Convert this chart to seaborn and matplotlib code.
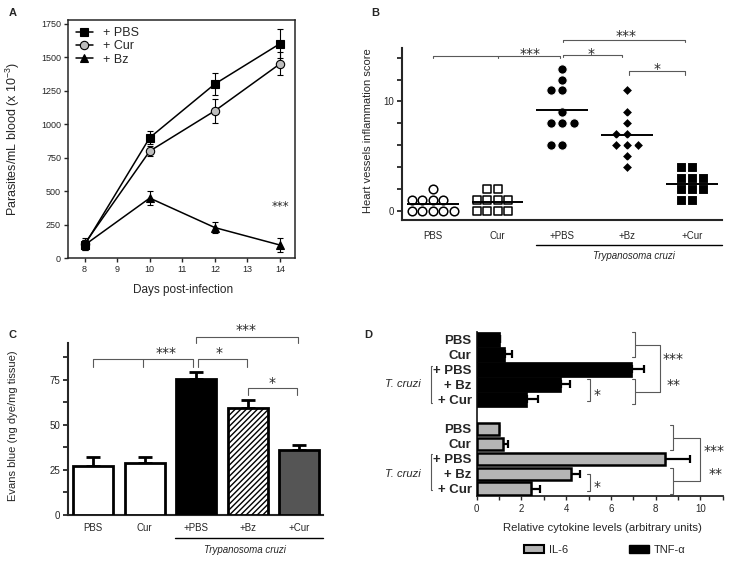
import numpy as np
import matplotlib
matplotlib.use('Agg')
import matplotlib.pyplot as plt
import seaborn as sns
from matplotlib.patches import Patch
from matplotlib.ticker import MultipleLocator

# Panel A - parasitemia
days = [8, 10, 12, 14]
pbs_par = [100, 900, 1300, 1600]
pbs_par_err = [40, 50, 85, 110]
cur_par = [110, 800, 1100, 1450]
cur_par_err = [40, 40, 90, 85]
bz_par = [100, 450, 230, 100]
bz_par_err = [40, 55, 40, 50]

# Panel B - heart vessels inflammation score (one value per animal)
b_groups = ['PBS', 'Cur', '+PBS', '+Bz', '+Cur']
b_pbs = [0, 0, 0, 0, 0, 1, 1, 1, 1, 2]
b_cur = [0, 0, 0, 0, 1, 1, 1, 1, 2, 2]
b_tpbs = [13, 12, 11, 11, 9, 8, 8, 8, 6, 6]
b_tbz = [11, 9, 8, 7, 7, 6, 6, 6, 5, 4]
b_tcur = [4, 4, 3, 3, 3, 2, 2, 2, 1, 1]

# Panel C - Evans blue
c_groups = ['PBS', 'Cur', '+PBS', '+Bz', '+Cur']
c_vals = [27, 29, 75.5, 59.5, 36]
c_err = [5, 3, 3.8, 4.5, 2.7]

# Panel D - cytokines
d_groups = ['PBS', 'Cur', '+ PBS', '+ Bz', '+ Cur']
tnf_vals = [1.05, 1.27, 6.95, 3.75, 2.27]
tnf_err = [0, 0.3, 0.55, 0.42, 0.48]
il6_vals = [1.0, 1.18, 8.4, 4.2, 2.42]
il6_err = [0, 0.2, 1.15, 0.44, 0.4]

sns.set_theme(style='ticks')
plt.rcParams['font.family'] = ['Liberation Sans', 'DejaVu Sans']
plt.rcParams['mathtext.default'] = 'regular'
plt.rcParams['hatch.linewidth'] = 1.0

fig = plt.figure(figsize=(7.36, 5.64), dpi=100)


def bracket(ax, x1, x2, y, h, color='0.35', lw=0.8):
    ax.plot([x1, x1, x2, x2], [y - h, y, y, y - h], color=color, lw=lw, clip_on=False)


def rbracket(ax, x, y1, y2, arm, color='0.35', lw=0.8):
    ax.plot([x - arm, x, x, x - arm], [y1, y1, y2, y2], color=color, lw=lw, clip_on=False)


def star(ax, x, y, s, size=10):
    ax.annotate(s, xy=(x, y), xytext=(0, -0.55 * size), textcoords='offset points',
                ha='center', va='baseline', fontsize=size, family='DejaVu Sans',
                annotation_clip=False)


# ---------------- A ----------------
axA = fig.add_axes([0.0924, 0.5417, 0.3084, 0.4237])
series = [('+ Bz', bz_par, bz_par_err, '^', 'black', 6),
          ('+ Cur', cur_par, cur_par_err, 'o', '#bdbdbd', 6),
          ('+ PBS', pbs_par, pbs_par_err, 's', 'black', 6.3)]
for name, vals, err, m, fc, ms in series:
    axA.errorbar(days, vals, yerr=err, fmt='none', ecolor='black', elinewidth=0.8,
                 capsize=2.5, capthick=0.8, zorder=2)
    sns.lineplot(x=days, y=vals, ax=axA, color='black', lw=1.1, marker=m, markersize=ms,
                 markerfacecolor=fc, markeredgecolor='black', markeredgewidth=0.8,
                 label=name, zorder=3)
h, l = axA.get_legend_handles_labels()
order = [l.index('+ PBS'), l.index('+ Cur'), l.index('+ Bz')]
axA.legend([h[i] for i in order], [l[i] for i in order], loc='upper left', frameon=False,
           fontsize=9, handlelength=1.4, labelspacing=0.1, borderaxespad=0.2,
           handletextpad=0.8)
axA.set_xlim(7.49, 14.46)
axA.set_ylim(0, 1780)
axA.set_xticks(range(8, 15))
axA.set_yticks(range(0, 1751, 250))
axA.tick_params(labelsize=6.5, length=3, width=1, direction='out', pad=2)
for sp in axA.spines.values():
    sp.set_linewidth(1.1)
axA.set_ylabel('Parasites/mL blood (x 10$^{-3}$)', fontsize=9, va='center')
axA.yaxis.set_label_coords(-0.244, 0.5)
axA.set_xlabel('Days post-infection', fontsize=8.5, va='center')
axA.xaxis.set_label_coords(0.506, -0.133)
axA.text(14, 390, '***', ha='center', va='center', fontsize=8.5, family='DejaVu Sans')

# ---------------- B ----------------
axB = fig.add_axes([0.5458, 0.6099, 0.4348, 0.3055])
# name, values, marker, face, edge, size, edge width
b_series = [('PBS', b_pbs, 'o', 'white', 'black', 6.2, 1.1),
            ('Cur', b_cur, 's', 'white', 'black', 6.0, 1.1),
            ('+PBS', b_tpbs, 'o', 'black', 'white', 6.85, 0.85),
            ('+Bz', b_tbz, 'D', 'black', 'white', 6.1, 1.6),
            ('+Cur', b_tcur, 's', 'black', 'white', 7.0, 0.8)]
for name, vals, m, fc, ec, size, lw in b_series:
    sns.swarmplot(x=[name] * len(vals), y=vals, order=b_groups, ax=axB, marker=m,
                  color=fc, edgecolor=ec, linewidth=lw, size=size, zorder=3)
for i, (name, vals, *_r) in enumerate(b_series):
    axB.hlines(np.mean(vals), i - 0.4, i + 0.4, color='black', lw=1.4, zorder=4)
axB.set_xlim(-0.48, 4.46)
axB.set_ylim(-0.82, 14.9)
axB.set_yticks([0, 10])
axB.yaxis.set_minor_locator(MultipleLocator(2))
axB.tick_params(axis='y', which='both', labelsize=7, length=3.5, width=1.3, pad=2)
axB.tick_params(axis='x', length=0, labelsize=7, pad=8)
sns.despine(ax=axB)
axB.spines['left'].set_linewidth(1.5)
axB.spines['bottom'].set_linewidth(1.5)
axB.set_xlabel('')
axB.set_ylabel('Heart vessels inflammation score', fontsize=8, va='center')
axB.yaxis.set_label_coords(-0.105, 0.52)
bracket(axB, 0, 1.96, 14.1, 0.15)
axB.plot([1.01, 1.01], [14.1, 13.95], color='0.35', lw=0.8, clip_on=False)
star(axB, 1.5, 14.7, '***')
bracket(axB, 2.01, 2.92, 14.2, 0.15)
star(axB, 2.45, 14.7, '*')
bracket(axB, 2.01, 3.9, 15.6, 0.2)
star(axB, 2.99, 16.3, '***')
bracket(axB, 3.03, 3.9, 12.75, 0.35)
star(axB, 3.46, 13.3, '*')
axB.plot([1.6, 4.46], [-3.1, -3.1], color='black', lw=1, clip_on=False)
axB.text(3.1, -4.1, 'Trypanosoma cruzi', ha='center', va='center', fontsize=7,
         style='italic')

# ---------------- C ----------------
axC = fig.add_axes([0.0924, 0.0869, 0.3465, 0.3050])
c_colors = ['white', 'white', 'black', 'white', '#555555']
sns.barplot(x=c_groups, y=c_vals, hue=c_groups, order=c_groups, palette=c_colors,
            legend=False, saturation=1, edgecolor='black', linewidth=2, width=0.77,
            ax=axC, zorder=3)
axC.containers[3][0].set_hatch('//////')
axC.errorbar(range(len(c_vals)), c_vals, yerr=[np.zeros(len(c_err)), c_err], fmt='none',
             ecolor='black', elinewidth=2, capsize=5, capthick=2, zorder=2)
axC.set_xlim(-0.49, 4.46)
axC.set_ylim(0, 95.5)
axC.set_yticks([0, 25, 50, 75])
axC.yaxis.set_minor_locator(MultipleLocator(12.5))
axC.tick_params(axis='y', which='both', labelsize=7, length=3.5, width=1.3, pad=2)
axC.tick_params(axis='x', length=0, labelsize=7, pad=6)
sns.despine(ax=axC)
axC.spines['left'].set_linewidth(1.5)
axC.spines['bottom'].set_linewidth(1.5)
axC.set_ylabel('Evans blue (ng dye/mg tissue)', fontsize=8, va='center')
axC.yaxis.set_label_coords(-0.216, 0.517)
bracket(axC, 0, 1.94, 86.5, 4.5)
axC.plot([0.97, 0.97], [86.5, 82], color='0.35', lw=0.8, clip_on=False)
star(axC, 1.42, 91.7, '***')
bracket(axC, 2.03, 2.98, 86.5, 4.5)
star(axC, 2.45, 91.7, '*')
bracket(axC, 2.0, 3.97, 99, 3.6)
star(axC, 2.97, 104.6, '***')
bracket(axC, 3.0, 3.95, 70.4, 3.7)
star(axC, 3.47, 75.4, '*')
axC.plot([1.58, 4.46], [-12.8, -12.8], color='black', lw=1, clip_on=False)
axC.text(2.95, -19.4, 'Trypanosoma cruzi', ha='center', va='center', fontsize=7,
         style='italic')

# ---------------- D ----------------
axD = fig.add_axes([0.6477, 0.1206, 0.3342, 0.2908])
tnf_keys = ['TNF ' + g for g in d_groups]
il6_keys = ['IL6 ' + g for g in d_groups]
d_order = tnf_keys + ['gap'] + il6_keys
sns.barplot(x=tnf_vals, y=tnf_keys, order=d_order, orient='h', color='black', saturation=1,
            width=1.0, edgecolor='black', linewidth=0.5, errorbar=None, ax=axD, zorder=3)
sns.barplot(x=il6_vals, y=il6_keys, order=d_order, orient='h', color='#b5b5b5', saturation=1,
            width=0.82, edgecolor='black', linewidth=1.8, errorbar=None, ax=axD, zorder=3)
pos_t = [d_order.index(k) for k in tnf_keys]
pos_i = [d_order.index(k) for k in il6_keys]
for vals, err, pos in [(tnf_vals, tnf_err, pos_t), (il6_vals, il6_err, pos_i)]:
    axD.errorbar(vals, pos, xerr=[np.zeros(len(err)), err], fmt='none', ecolor='black',
                 elinewidth=1.6, capsize=3, capthick=1.6, zorder=2)
axD.set_xlim(0, 11)
axD.set_ylim(10.5, -0.5)
axD.set_xticks(range(0, 11, 2))
axD.xaxis.set_minor_locator(MultipleLocator(1))
axD.tick_params(axis='x', which='both', labelsize=7, length=3, width=1, pad=3)
axD.set_yticks(range(len(d_order)))
axD.set_yticklabels(d_groups + [''] + d_groups, fontsize=9.5, fontweight='bold')
axD.tick_params(axis='y', length=0, pad=3.6)
sns.despine(ax=axD)
axD.spines['left'].set_linewidth(1.3)
axD.spines['bottom'].set_linewidth(1.3)
axD.set_ylabel('')
axD.set_xlabel('Relative cytokine levels (arbitrary units)', fontsize=8.2, va='center')
axD.xaxis.set_label_coords(0.51, -0.195)

# TNF brackets
rbracket(axD, 7.1, -0.48, 1.18, 0.16)
rbracket(axD, 7.1, 2.66, 4.36, 0.16)
axD.plot([7.1, 8.2, 8.2, 7.1], [0.35, 0.35, 3.51, 3.51], color='0.35', lw=0.8, clip_on=False)
star(axD, 8.8, 1.1, '***')
star(axD, 8.8, 2.8, '**')
rbracket(axD, 5.07, 2.66, 4.13, 0.14)
star(axD, 5.4, 3.5, '*')
# IL-6 brackets
rbracket(axD, 8.8, 5.73, 7.43, 0.16)
rbracket(axD, 8.8, 8.65, 10.4, 0.16)
axD.plot([8.8, 10.0, 10.0, 8.8], [6.58, 6.58, 9.5, 9.5], color='0.35', lw=0.8, clip_on=False)
star(axD, 10.63, 7.25, '***')
star(axD, 10.67, 8.8, '**')
rbracket(axD, 5.07, 9.02, 10.16, 0.14)
star(axD, 5.4, 9.65, '*')
# T. cruzi labels on the left
for y1, y2, yc in [(1.75, 4.25, 3.0), (7.66, 10.1, 9.0)]:
    axD.plot([-1.98, -2.06, -2.06, -1.98], [y1, y1, y2, y2], color='0.35', lw=0.8,
             clip_on=False)
    axD.text(-2.5, yc, 'T. cruzi', ha='right', va='center', fontsize=8, style='italic')

fig.legend(handles=[Patch(facecolor='#b5b5b5', edgecolor='black', linewidth=1.5, label='IL-6'),
                    Patch(facecolor='black', edgecolor='black', label='TNF-α')],
           loc='center', bbox_to_anchor=(0.822, 0.025), ncol=2, frameon=False, fontsize=8,
           columnspacing=5.5, handlelength=1.8, handleheight=0.7, handletextpad=0.45)

for letter, x, y in [('A', 13, 13), ('B', 375, 13), ('C', 13, 335), ('D', 368, 335)]:
    fig.text(x / 736, 1 - y / 564, letter, ha='center', va='center', fontsize=8,
             fontweight='bold')

fig.savefig('out.png', dpi=100)
